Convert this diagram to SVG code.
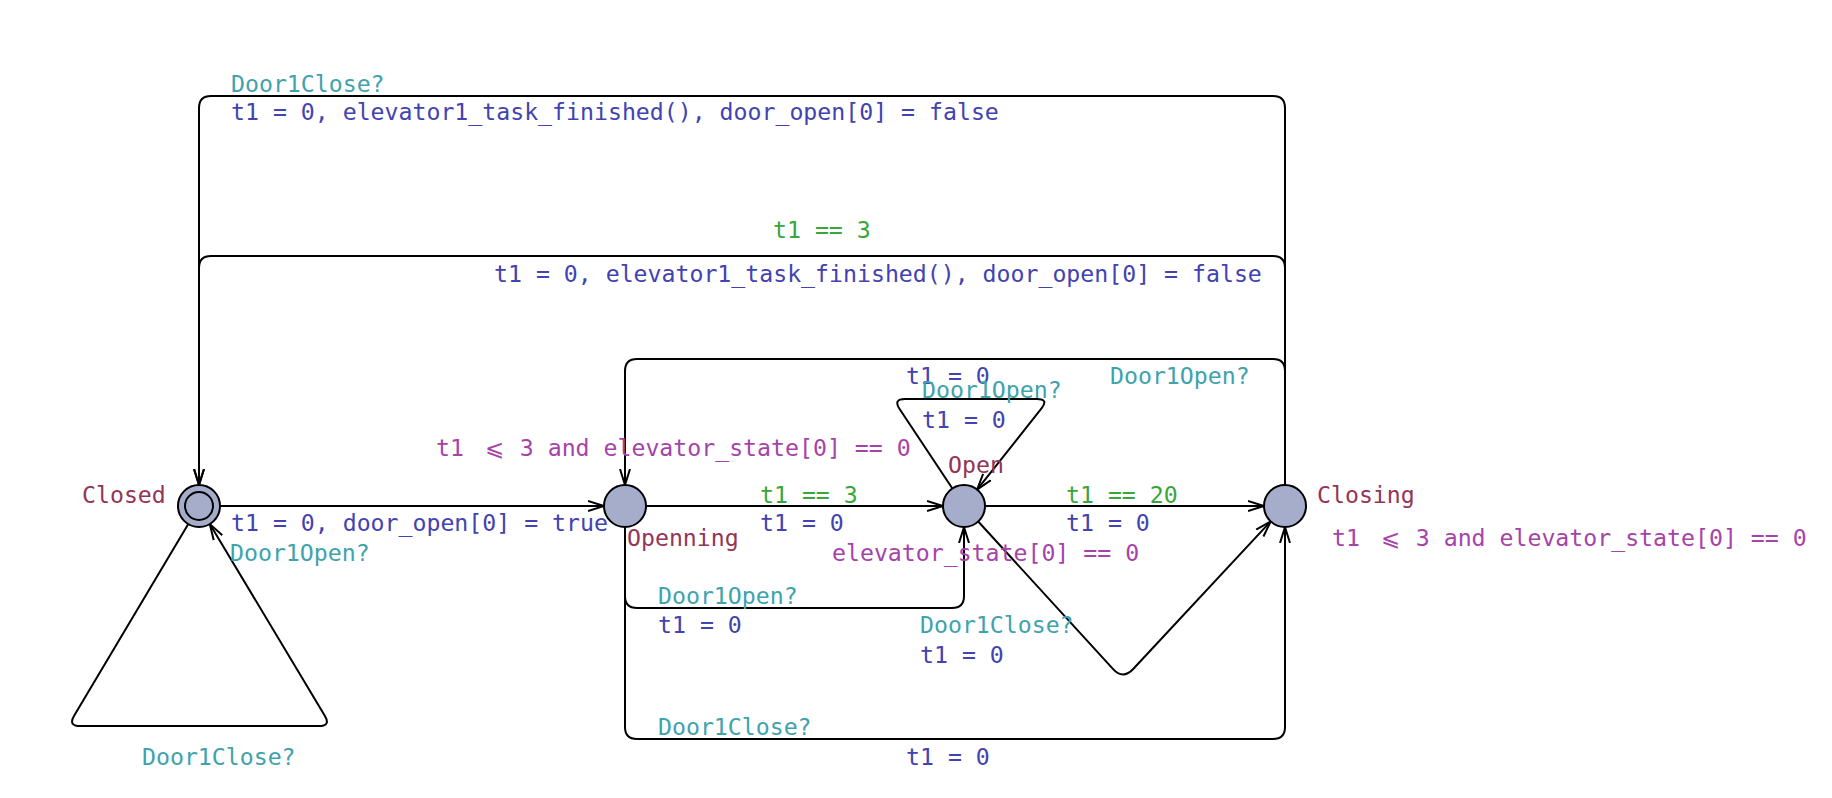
<svg xmlns="http://www.w3.org/2000/svg" width="1832" height="798" viewBox="0 0 1832 798">
<defs>
<marker id="arr" markerUnits="userSpaceOnUse" markerWidth="20" markerHeight="14" refX="16" refY="6" orient="auto" viewBox="0 0 20 12">
<path d="M0,1 L16,6 L0,11" fill="none" stroke="#000" stroke-width="2"/>
</marker>
</defs>
<style>
text{font-family:"DejaVu Sans Mono","Liberation Mono",monospace;font-size:23.2px}
.name{fill:#943558}
.sync{fill:#3ea3ad}
.asg{fill:#4242b2}
.grd{fill:#38a638}
.inv{fill:#a643a9}
.loc{fill:#a5adcb;stroke:#000;stroke-width:2}
.edge{fill:none;stroke:#000;stroke-width:2;marker-end:url(#arr)}
.plain{fill:none;stroke:#000;stroke-width:2}
</style>
<rect width="1832" height="798" fill="#fff"/>
<g id="connectors">
<path class="edge" d="M220,506 L604,506"/>
<path class="edge" d="M188.3,524 L74.1,715.7 Q68,726 80,726 L319,726 Q331,726 324.8,715.7 L209.8,524"/>
<path class="edge" d="M646,506 L943,506"/>
<path class="edge" d="M985,506 L1264,506"/>
<path class="edge" d="M952.4,488.5 L899.6,409 Q893,399 905,399 L1037,399 Q1049,399 1041.5,408.4 L977.1,489.6"/>
<path class="edge" d="M625,527 L625,596 Q625,608 637,608 L952,608 Q964,608 964,596 L964,527"/>
<path class="edge" d="M625,527 L625,727 Q625,739 637,739 L1273,739 Q1285,739 1285,727 L1285,527"/>
<path class="edge" d="M1285,485 L1285,371 Q1285,359 1273,359 L637,359 Q625,359 625,371 L625,485"/>
<path class="edge" d="M978.2,521.5 L1112.9,668.9 Q1123,680 1133.2,669 L1270.7,521.4"/>
<path class="edge" d="M1285,485 L1285,268 Q1285,256 1273,256 L211,256 Q199,256 199,268 L199,485"/>
<path class="edge" d="M1285,485 L1285,108 Q1285,96 1273,96 L211,96 Q199,96 199,108 L199,485"/>
</g>
<g id="edge-labels">
<text class="asg" x="231" y="531">t1 = 0, door_open[0] = true</text>
<text class="sync" x="230" y="561">Door1Open?</text>
<text class="sync" x="142" y="765">Door1Close?</text>
<text class="grd" x="760" y="503">t1 == 3</text>
<text class="asg" x="760" y="531">t1 = 0</text>
<text class="grd" x="1066" y="503">t1 == 20</text>
<text class="asg" x="1066" y="531">t1 = 0</text>
<text class="asg" x="906" y="384">t1 = 0</text>
<text class="sync" x="1110" y="384">Door1Open?</text>
<text class="sync" x="922" y="398">Door1Open?</text>
<text class="asg" x="922" y="428">t1 = 0</text>
<text class="sync" x="658" y="604">Door1Open?</text>
<text class="asg" x="658" y="633">t1 = 0</text>
<text class="sync" x="920" y="633">Door1Close?</text>
<text class="asg" x="920" y="663">t1 = 0</text>
<text class="sync" x="658" y="735">Door1Close?</text>
<text class="asg" x="906" y="765">t1 = 0</text>
<text class="grd" x="773" y="238">t1 == 3</text>
<text class="asg" x="494" y="282">t1 = 0, elevator1_task_finished(), door_open[0] = false</text>
<text class="sync" x="231" y="92">Door1Close?</text>
<text class="asg" x="231" y="120">t1 = 0, elevator1_task_finished(), door_open[0] = false</text>
</g>
<g id="node-closed">
<circle class="loc" cx="199" cy="506" r="21"/>
<circle cx="199" cy="506" r="14" fill="none" stroke="#000" stroke-width="2"/>
<text class="name" x="82" y="503">Closed</text>
</g>
<g id="node-openning">
<circle class="loc" cx="625" cy="506" r="21"/>
<text class="name" x="627" y="546">Openning</text>
<text class="inv" x="436" y="456">t1 <tspan dx="7">⩽</tspan><tspan x="505.8"> 3 and elevator_state[0] == 0</tspan></text>
</g>
<g id="node-open">
<circle class="loc" cx="964" cy="506" r="21"/>
<text class="name" x="948" y="473">Open</text>
<text class="inv" x="832" y="561">elevator_state[0] == 0</text>
</g>
<g id="node-closing">
<circle class="loc" cx="1285" cy="506" r="21"/>
<text class="name" x="1317" y="503">Closing</text>
<text class="inv" x="1332" y="546">t1 <tspan dx="7">⩽</tspan><tspan x="1401.8"> 3 and elevator_state[0] == 0</tspan></text>
</g>
</svg>
